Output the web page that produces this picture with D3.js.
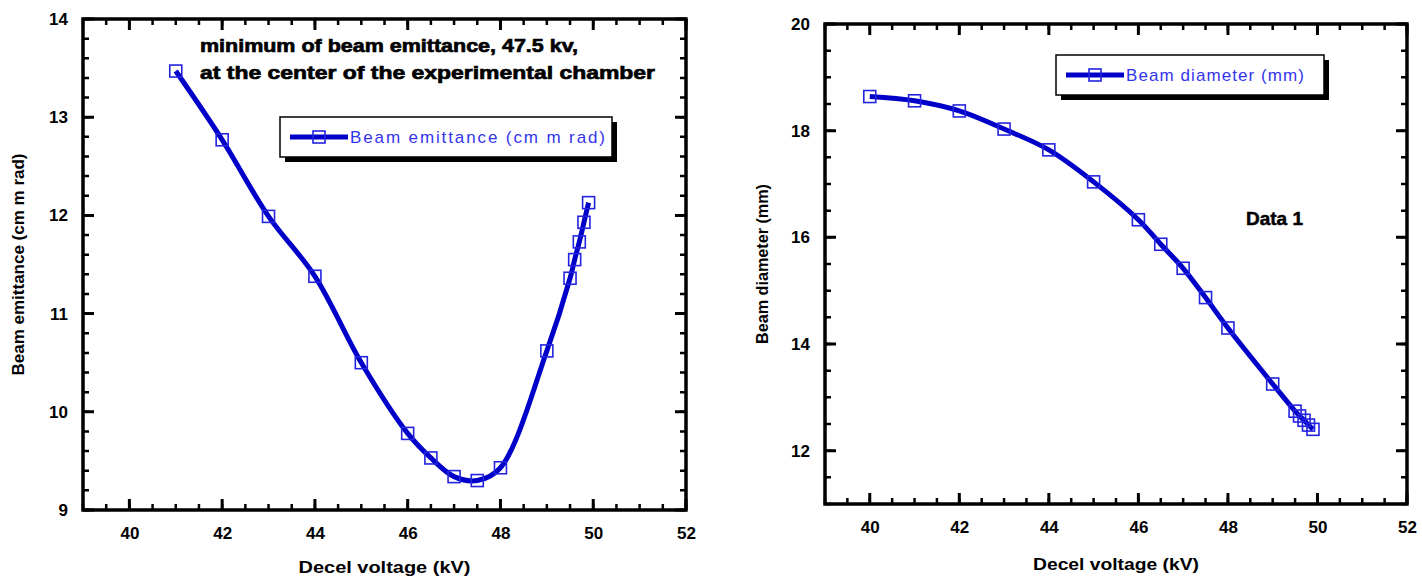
<!DOCTYPE html>
<html>
<head>
<meta charset="utf-8">
<script src="https://cdn.jsdelivr.net/npm/d3@7"></script>
<style>
body { margin: 0; background: #fff; }
</style>
</head>
<body>
<svg id="chart" width="1422" height="577" font-family="Liberation Sans, Arial, sans-serif"></svg>
<script>
// left panel: beam emittance vs decel voltage
const voltageE = [41, 42, 43, 44, 45, 46, 46.5, 47, 47.5, 48, 49, 49.5, 49.6, 49.7, 49.8, 49.9];
const emittance = [13.47, 12.77, 11.99, 11.38, 10.50, 9.78, 9.53, 9.34, 9.30, 9.43, 10.62, 11.36, 11.55, 11.73, 11.93, 12.13];

// right panel: beam diameter vs decel voltage
const voltageD = [40, 41, 42, 43, 44, 45, 46, 46.5, 47, 47.5, 48, 49, 49.5, 49.6, 49.7, 49.8, 49.9];
const diameter = [18.64, 18.56, 18.37, 18.03, 17.64, 17.04, 16.33, 15.87, 15.42, 14.87, 14.30, 13.25, 12.74, 12.65, 12.57, 12.48, 12.40];

const xTicks = [40, 42, 44, 46, 48, 50, 52];
const yTicksE = [9, 10, 11, 12, 13, 14];
const yTicksD = [12, 14, 16, 18, 20];

const svg = d3.select('#chart');
const lineColor = '#0000c8';
const markColor = '#2424e0';

function panel(opt) {
  const x = d3.scaleLinear().domain(opt.xDomain).range([opt.left, opt.right]);
  const y = d3.scaleLinear().domain(opt.yDomain).range([opt.bottom, opt.top]);
  const g = svg.append('g');

  // tick labels from d3 axes
  const fmt = d3.format('d');
  g.append('g').attr('transform', `translate(0,${opt.bottom})`)
    .call(d3.axisBottom(x).tickValues(xTicks).tickSize(0).tickPadding(17).tickFormat(fmt))
    .call(s => s.select('.domain').remove())
    .call(s => s.selectAll('text').attr('font-size', 17).attr('font-weight', 'bold').attr('fill', '#000'));
  g.append('g').attr('transform', `translate(${opt.left},0)`)
    .call(d3.axisLeft(y).tickValues(opt.yTicks).tickSize(0).tickPadding(15).tickFormat(fmt))
    .call(s => s.select('.domain').remove())
    .call(s => s.selectAll('text').attr('font-size', 17).attr('font-weight', 'bold').attr('fill', '#000'));

  // axis titles
  g.append('text')
    .attr('x', (opt.left + opt.right) / 2).attr('y', opt.xTitleY)
    .attr('text-anchor', 'middle').attr('font-size', 17).attr('font-weight', 'bold')
    .attr('textLength', opt.xTitleLen).attr('lengthAdjust', 'spacingAndGlyphs')
    .text('Decel voltage (kV)');
  g.append('text')
    .attr('transform', `translate(${opt.yTitleX},${(opt.top + opt.bottom) / 2}) rotate(-90)`)
    .attr('text-anchor', 'middle').attr('font-size', 16).attr('font-weight', 'bold')
    .attr('textLength', opt.yTitleLen).attr('lengthAdjust', 'spacingAndGlyphs')
    .text(opt.yTitle);

  // curve + markers
  const pts = opt.xs.map((v, i) => [v, opt.ys[i]]);
  const line = d3.line().x(d => x(d[0])).y(d => y(d[1])).curve(d3.curveCatmullRom.alpha(0.5));
  g.append('path').datum(pts)
    .attr('d', line).attr('fill', 'none')
    .attr('stroke', lineColor).attr('stroke-width', 5).attr('stroke-linejoin', 'round');
  g.selectAll('rect.mark').data(pts).enter().append('rect')
    .attr('class', 'mark')
    .attr('x', d => x(d[0]) - 6).attr('y', d => y(d[1]) - 6)
    .attr('width', 12).attr('height', 12)
    .attr('fill', 'none').attr('stroke', markColor).attr('stroke-width', 1.6);

  // legend
  const L = opt.legend;
  g.append('rect').attr('x', L.x + 5).attr('y', L.y + 5).attr('width', L.w).attr('height', L.h).attr('fill', '#000');
  g.append('rect').attr('x', L.x).attr('y', L.y).attr('width', L.w).attr('height', L.h)
    .attr('fill', '#fff').attr('stroke', '#000').attr('stroke-width', 1.5);
  const ly = L.y + L.h / 2;
  g.append('line').attr('x1', L.x + 10).attr('x2', L.x + 68).attr('y1', ly).attr('y2', ly)
    .attr('stroke', lineColor).attr('stroke-width', 5);
  g.append('rect').attr('x', L.x + 33).attr('y', ly - 6).attr('width', 12).attr('height', 12)
    .attr('fill', 'none').attr('stroke', markColor).attr('stroke-width', 1.6);
  g.append('text').attr('x', L.x + 70).attr('y', ly + 6)
    .attr('font-size', 17).attr('fill', '#3434ee')
    .attr('textLength', L.tw).attr('lengthAdjust', 'spacing')
    .text(opt.legendText);

  // frame
  g.append('path')
    .attr('d', `M${opt.left},${opt.top}H${opt.right}V${opt.bottom}H${opt.left}Z`)
    .attr('fill', 'none').attr('stroke', '#000').attr('stroke-width', 3.5);

  // inward ticks on all four sides, built as one path per size from the scales
  const xMinor = d3.range(opt.xDomain[0], opt.xDomain[1] + 0.001, 0.5);
  const yMinor = d3.range(opt.yDomain[0], opt.yDomain[1] + 0.001, opt.yMinorStep);
  [[xMinor, yMinor, 6, 2.5], [xTicks, opt.yTicks, 11, 3]].forEach(([xv, yv, len, w]) => {
    const p = d3.path();
    xv.forEach(v => {
      const px = x(v);
      p.moveTo(px, opt.bottom); p.lineTo(px, opt.bottom - len);
      p.moveTo(px, opt.top); p.lineTo(px, opt.top + len);
    });
    yv.forEach(v => {
      const py = y(v);
      p.moveTo(opt.left, py); p.lineTo(opt.left + len, py);
      p.moveTo(opt.right, py); p.lineTo(opt.right - len, py);
    });
    g.append('path').attr('d', p.toString())
      .attr('fill', 'none').attr('stroke', '#000').attr('stroke-width', w);
  });

  return { x, y, g };
}

const left = panel({
  xs: voltageE, ys: emittance,
  xDomain: [39, 52], yDomain: [9, 14], yTicks: yTicksE, yMinorStep: 0.2,
  left: 83, right: 686, top: 19, bottom: 510,
  xTitleY: 573, xTitleLen: 172, yTitleX: 24, yTitleLen: 222,
  yTitle: 'Beam emittance (cm m rad)',
  legend: { x: 280, y: 117, w: 332, h: 40, tw: 255 },
  legendText: 'Beam emittance (cm m rad)'
});

left.g.append('text').attr('x', 200).attr('y', 52)
  .attr('font-size', 19).attr('font-weight', 'bold')
  .attr('stroke', '#000').attr('stroke-width', 0.7)
  .attr('textLength', 378).attr('lengthAdjust', 'spacingAndGlyphs')
  .text('minimum of beam emittance, 47.5 kv,');
left.g.append('text').attr('x', 200).attr('y', 79)
  .attr('font-size', 19).attr('font-weight', 'bold')
  .attr('stroke', '#000').attr('stroke-width', 0.7)
  .attr('textLength', 455).attr('lengthAdjust', 'spacingAndGlyphs')
  .text('at the center of the experimental chamber');

const right = panel({
  xs: voltageD, ys: diameter,
  xDomain: [39, 52], yDomain: [11, 20], yTicks: yTicksD, yMinorStep: 0.5,
  left: 825, right: 1407, top: 24, bottom: 504,
  xTitleY: 570, xTitleLen: 166, yTitleX: 768, yTitleLen: 160,
  yTitle: 'Beam diameter (mm)',
  legend: { x: 1056, y: 55, w: 268, h: 40, tw: 178 },
  legendText: 'Beam diameter (mm)'
});

right.g.append('text').attr('x', 1246).attr('y', 225)
  .attr('font-size', 19).attr('font-weight', 'bold')
  .attr('stroke', '#000').attr('stroke-width', 0.5)
  .text('Data 1');
</script>
</body>
</html>
